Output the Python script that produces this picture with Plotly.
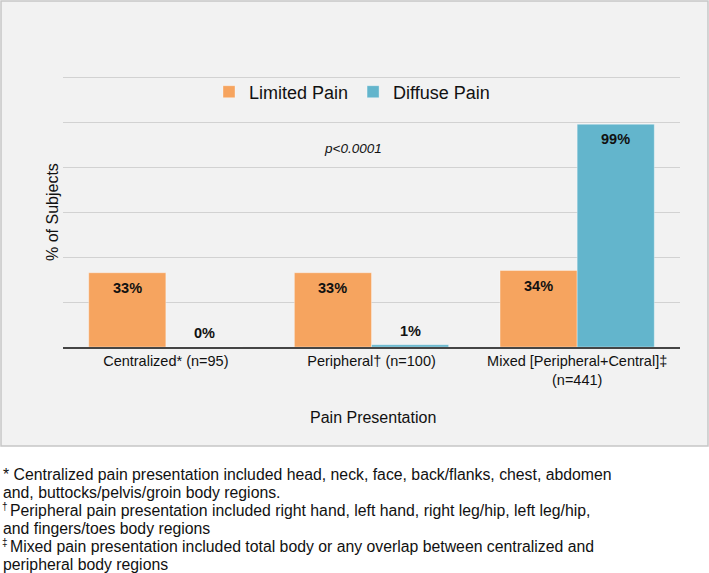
import plotly.graph_objects as go

categories = ["Centralized* (n=95)", "Peripheral† (n=100)", "Mixed [Peripheral+Central]‡<br>(n=441)"]
limited_pain = [33, 33, 34]
diffuse_pain = [0, 1, 99]
series_names = ["Limited Pain", "Diffuse Pain"]
y_title = "% of Subjects"
x_title = "Pain Presentation"
p_text = "p<0.0001"
footnote_marks = ["", "", "†", "", "‡", ""]
footnotes = [
    "* Centralized pain presentation included head, neck, face, back/flanks, chest, abdomen",
    "and, buttocks/pelvis/groin body regions.",
    "Peripheral pain presentation included right hand, left hand, right leg/hip, left leg/hip,",
    "and fingers/toes body regions",
    "Mixed pain presentation included total body or any overlap between centralized and",
    "peripheral body regions",
]

FONT = "Liberation Sans, Arial, sans-serif"
W, H = 709, 573
L, R, T, B = 63, 29, 75, 226
PW, PH = W - L - R, H - T - B
YMAX = PH / 2.25  # 20% per 45 px, so that the 120% gridline sits at y=77

def px_x(px):
    return (px - L) / PW

def px_y(py):
    return (H - B - py) / PH

fig = go.Figure()
colors = ["#F6A45F", "#63B5CC"]
all_vals = [limited_pain, diffuse_pain]
for name, vals, color in zip(series_names, all_vals, colors):
    fig.add_trace(go.Bar(
        name=name, x=categories, y=vals,
        marker=dict(color=color, line=dict(color="rgba(255,255,255,0.35)", width=1)),
        hoverinfo="skip",
    ))

shapes = [dict(type="rect", xref="paper", yref="paper", layer="below",
               x0=px_x(1), x1=px_x(708), y0=px_y(446), y1=px_y(1),
               fillcolor="#F2F2F2", line=dict(color="#C6C6C6", width=1.5))]

annotations = []
half = PW / 3 * 0.75 / 4  # offset of each bar centre from the category centre
for k, vals in enumerate(all_vals):
    for cat, v in zip(categories, vals):
        inside = v > 5
        annotations.append(dict(
            text=f"<b>{v}%</b>", x=cat, y=v, xref="x", yref="y", showarrow=False,
            xshift=(-half if k == 0 else half), yshift=(-15 if inside else 14),
            xanchor="center", yanchor="middle",
            font=dict(family=FONT, size=14.5, color="#111111")))

annotations += [
    dict(text=f"<i>{p_text}</i>", xref="paper", yref="paper", x=px_x(353), y=px_y(148),
         showarrow=False, font=dict(family=FONT, size=13.5, color="#111111"),
         xanchor="center", yanchor="middle"),
    dict(text=x_title, xref="paper", yref="paper", x=px_x(373), y=px_y(417),
         showarrow=False, font=dict(family=FONT, size=16, color="#111111"),
         xanchor="center", yanchor="middle"),
    dict(text=y_title, xref="paper", yref="paper", x=px_x(52), y=px_y(212),
         showarrow=False, textangle=-90, font=dict(family=FONT, size=16, color="#111111"),
         xanchor="center", yanchor="middle"),
]
for i, (mark, line) in enumerate(zip(footnote_marks, footnotes)):
    ly = 474 + i * 18.1
    if mark:
        annotations.append(dict(text=mark, xref="paper", yref="paper", x=px_x(1), y=px_y(ly - 4),
                                showarrow=False, borderpad=0,
                                font=dict(family=FONT, size=10, color="#111111"),
                                xanchor="left", yanchor="middle"))
    annotations.append(dict(text=line, xref="paper", yref="paper",
                            x=px_x(8 if mark else 1), y=px_y(ly), showarrow=False,
                            font=dict(family=FONT, size=15.8, color="#111111"),
                            xanchor="left", yanchor="middle", align="left"))

fig.update_layout(
    width=W, height=H,
    margin=dict(l=L, r=R, t=T, b=B, autoexpand=False),
    paper_bgcolor="white", plot_bgcolor="rgba(0,0,0,0)",
    barmode="group", bargap=0.25, bargroupgap=0,
    showlegend=True,
    legend=dict(orientation="h", x=px_x(352), y=px_y(92), xanchor="center", yanchor="middle",
                font=dict(family=FONT, size=18, color="#111111"), bgcolor="rgba(0,0,0,0)",
                itemwidth=30, traceorder="normal"),
    xaxis=dict(showline=True, linecolor="#454545", linewidth=2, ticks="", showgrid=False,
               tickfont=dict(family=FONT, size=14.5, color="#111111"), automargin=False,
               fixedrange=True),
    yaxis=dict(range=[0, YMAX], tick0=0, dtick=20, showticklabels=False, showgrid=True,
               gridcolor="#D2D2D2", gridwidth=1.2, zeroline=False, automargin=False,
               fixedrange=True),
    shapes=shapes, annotations=annotations,
    font=dict(family=FONT),
)

fig.write_html("out.html", config={"displayModeBar": False},
               post_script="document.body.style.margin='0';document.body.style.padding='0';")
